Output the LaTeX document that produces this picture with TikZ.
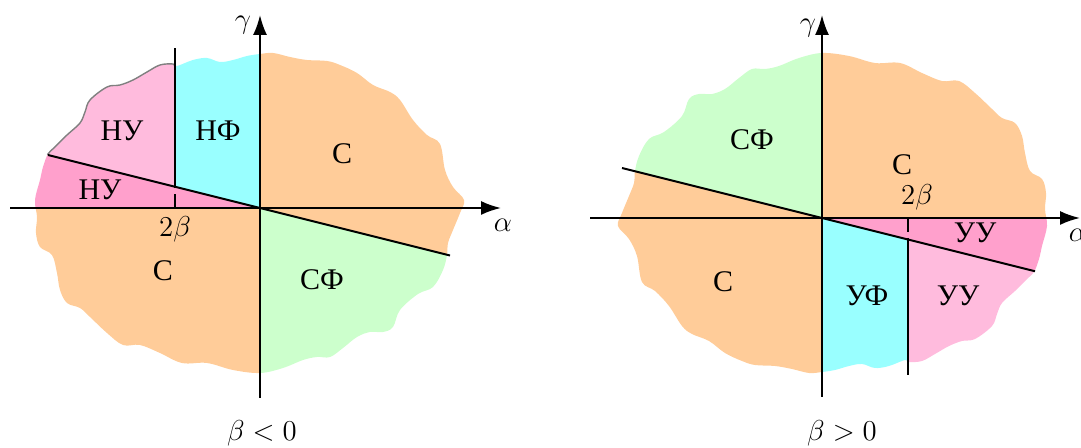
\documentclass[tikz,border=0pt]{standalone}
\usepackage{fontspec}
\newfontfamily\cyr{Liberation Serif}
\usetikzlibrary{arrows.meta}
\definecolor{corange}{RGB}{255,204,153}
\definecolor{ccyan}{RGB}{153,255,255}
\definecolor{cpinkL}{RGB}{255,187,221}
\definecolor{cpinkD}{RGB}{255,160,204}
\definecolor{cgreen}{RGB}{204,255,204}
\def\blob{plot[smooth cycle, tension=0.6] coordinates {
(0,154) (13,155) (30,151) (47,148) (67,147) (80,143) (97,135) (113,123) (130,116) (140,108)
(153,88) (167,73) (180,64) (185,38) (193,21) (204,8) (200,-5) (193,-22)
(188,-35) (187,-47) (183,-62) (173,-79) (158,-86) (140,-102) (133,-119) (123,-124)
(110,-124) (97,-129) (83,-140) (70,-149) (57,-149) (43,-152) (23,-160) (0,-165) (-27,-162)
(-53,-155) (-78,-155) (-100,-145) (-120,-137) (-137,-137) (-153,-125) (-170,-109)
(-180,-100) (-193,-95) (-200,-82) (-203,-65) (-208,-47) (-220,-39) (-224,-25) (-223,-9)
(-225,8) (-220,28) (-217,41) (-212,54) (-205,61) (-193,73) (-180,85) (-175,96) (-170,108)
(-153,121) (-140,123) (-127,128) (-113,136) (-100,143) (-87,144) (-83,142) (-67,148)
(-53,150) (-40,146) (-27,148) (-13,152)}}
\def\regions{%
  \fill[cpinkL] (-300,75) -- (-85,21.25) -- (-85,300) -- (-300,300) -- cycle;
  \fill[ccyan] (-85,21.25) -- (0,0) -- (0,300) -- (-85,300) -- cycle;
  \fill[cpinkD] (-300,0) -- (0,0) -- (-300,75) -- cycle;
  \fill[corange] (0,0) -- (300,-75) -- (300,300) -- (0,300) -- cycle;
  \fill[corange] (-300,0) -- (0,0) -- (0,-300) -- (-300,-300) -- cycle;
  \fill[cgreen] (0,0) -- (300,-75) -- (300,-300) -- (0,-300) -- cycle;}
\tikzset{
  axis/.style={line width=1pt, -{Latex[length=10pt,width=7pt]}},
  bline/.style={line width=1pt},
  dline/.style={line width=1pt, dash pattern=on 7pt off 3pt},
  lab/.style={font=\cyr\fontsize{15}{18}\selectfont, inner sep=0pt},
  mlab/.style={font=\fontsize{14.5}{17}\selectfont, inner sep=0pt}
}
\begin{document}
\begin{tikzpicture}[x=0.5pt,y=0.5pt]
\useasboundingbox (0,0) rectangle (1081,448);
% ---------- left diagram ----------
\begin{scope}[shift={(260,240)}]
  \begin{scope}
    \clip \blob;
    \regions
  \end{scope}
  \begin{scope}
    \clip (-300,75) -- (-85,21.25) -- (-85,300) -- (-300,300) -- cycle;
    \draw[gray, line width=0.7pt] \blob;
  \end{scope}
  \coordinate (LxA) at (-250,0);
  \coordinate (LxB) at (241,0);
  \coordinate (LyA) at (0,-190);
  \coordinate (LyB) at (0,193);
  \coordinate (LsA) at (-212,53);
  \coordinate (LsB) at (190,-47.5);
  \coordinate (LvA) at (-85,0);
  \coordinate (LvM) at (-85,21.25);
  \coordinate (LvB) at (-85,160);
  \draw[bline] (LsA) -- (LsB);
  \draw[bline] (LvM) -- (LvB);
  \draw[dline] (LvA) -- (LvM);
  \draw[axis] (LxA) -- (LxB);
  \draw[axis] (LyA) -- (LyB);
  \node[mlab] (Lgam) at (-17,183) {$\gamma$};
  \node[mlab] (Lalp) at (243,-17) {$\alpha$};
  \node[mlab] (L2b) at (-85,-21) {$2\beta$};
  \node[lab] (LNU1) at (-138,77) {НУ};
  \node[lab] (LNF) at (-42,77) {НФ};
  \node[lab] (LNU2) at (-160,18) {НУ};
  \node[lab] (LC1) at (82,54) {С};
  \node[lab] (LC2) at (-97,-63) {С};
  \node[lab] (LSF) at (62,-72) {СФ};
  \node[mlab] (Lcap) at (2,-225) {$\beta<0$};
\end{scope}
% ---------- right diagram ----------
\begin{scope}[shift={(822,230)}]
  \begin{scope}[rotate=180]
    \clip \blob;
    \regions
  \end{scope}
  \coordinate (RxA) at (-232,0);
  \coordinate (RxB) at (258,0);
  \coordinate (RyA) at (0,-179);
  \coordinate (RyB) at (0,203);
  \coordinate (RsA) at (-200,50);
  \coordinate (RsB) at (213,-53.25);
  \coordinate (RvA) at (86,0);
  \coordinate (RvM) at (86,-21.5);
  \coordinate (RvB) at (86,-157);
  \draw[bline] (RsA) -- (RsB);
  \draw[bline] (RvM) -- (RvB);
  \draw[dline] (RvA) -- (RvM);
  \draw[axis] (RxA) -- (RxB);
  \draw[axis] (RyA) -- (RyB);
  \node[mlab] (Rgam) at (-14,190) {$\gamma$};
  \node[mlab] (Ralp) at (256,-17) {$\alpha$};
  \node[mlab] (R2b) at (95,21) {$2\beta$};
  \node[lab] (RSF) at (-70,78) {СФ};
  \node[lab] (RC1) at (80,53) {С};
  \node[lab] (RUU1) at (153,-15) {УУ};
  \node[lab] (RUF) at (45,-78) {УФ};
  \node[lab] (RUU2) at (136,-78) {УУ};
  \node[lab] (RC2) at (-99,-64) {С};
  \node[mlab] (Rcap) at (20,-215) {$\beta>0$};
\end{scope}
\end{tikzpicture}
\end{document}
